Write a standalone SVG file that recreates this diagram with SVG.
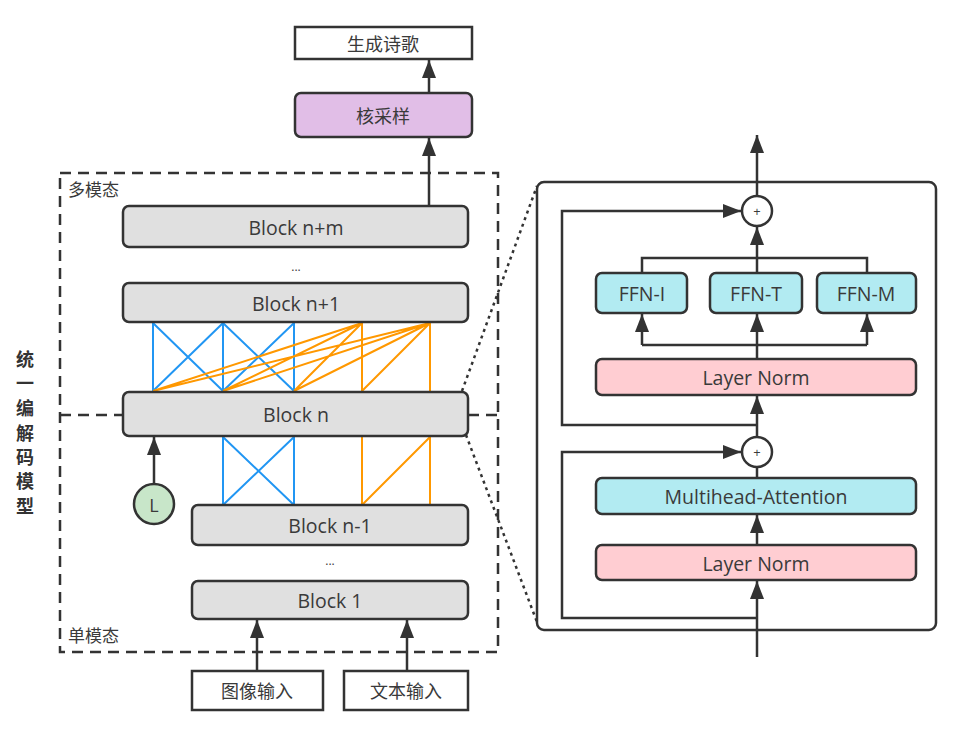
<svg xmlns="http://www.w3.org/2000/svg" width="959" height="730" viewBox="0 0 959 730">
<defs>
<marker id="arr" viewBox="0 0 18 14" refX="18" refY="7" markerWidth="18" markerHeight="14" markerUnits="userSpaceOnUse" orient="auto">
<path d="M0,0 L18,7 L0,14 z" fill="#333"/>
</marker>
<style>
text{font-family:"Open Sans","Noto Sans","Noto Sans CJK SC",sans-serif;fill:#3a3a3a;text-anchor:middle;dominant-baseline:central}
.cjk{font-family:"Noto Sans CJK SC","Noto Sans",sans-serif}
.side{font-family:"Noto Sans CJK SC",sans-serif;font-size:18px;font-weight:bold;fill:#333}
.box{stroke:#333;stroke-width:2.5}
.blk{fill:#e0e0e0}
.cy{fill:#b2ebf2}
.pk{fill:#ffcdd2}
.ln{stroke:#333;stroke-width:2.5;fill:none}
.ar{stroke:#333;stroke-width:2.5;fill:none;marker-end:url(#arr)}
.bl{stroke:#2196f3;stroke-width:2;fill:none}
.or{stroke:#ff9800;stroke-width:2;fill:none}
.dash{stroke:#333;stroke-width:2.5;fill:none;stroke-dasharray:11 7}
.dot{stroke:#333;stroke-width:2.5;fill:none;stroke-dasharray:3 4}
.bt{font-size:19.5px}
</style>
</defs>
<rect width="959" height="730" fill="#fff"/>

<!-- dashed container -->
<g id="container">
<rect x="60" y="173" width="438" height="479" class="dash"/>
<line x1="60" y1="415" x2="123" y2="415" class="dash"/>
<line x1="468" y1="415" x2="498" y2="415" class="dash"/>
<text x="68" y="188" class="cjk" style="font-size:17px;text-anchor:start">多模态</text>
<text x="68" y="634" class="cjk" style="font-size:17px;text-anchor:start">单模态</text>
</g>

<g id="side-label">
<text x="25" y="358" class="side">统</text>
<text x="25" y="382" class="side">一</text>
<text x="25" y="407" class="side">编</text>
<text x="25" y="432" class="side">解</text>
<text x="25" y="456" class="side">码</text>
<text x="25" y="480" class="side">模</text>
<text x="25" y="505" class="side">型</text>
</g>

<!-- connectors -->
<g id="connectors">
<line x1="429" y1="93" x2="429" y2="60" class="ar"/>
<line x1="429" y1="206" x2="429" y2="138" class="ar"/>
<line x1="154" y1="484" x2="154" y2="437" class="ar"/>
<line x1="257" y1="671" x2="257" y2="620" class="ar"/>
<line x1="407" y1="671" x2="407" y2="620" class="ar"/>
<!-- blue/orange between n and n+1 -->
<path class="bl" d="M153,323V391M223,323V391M294,323V391M153,323L223,391M223,323L153,391M223,323L294,391M294,323L223,391"/>
<path class="or" d="M362,323V391M430,323V391M362,323L153,391M362,323L223,391M362,323L294,391M430,323L153,391M430,323L223,391M430,323L294,391M430,323L362,391"/>
<!-- between n-1 and n -->
<path class="bl" d="M223,437V505M294,437V505M223,437L294,505M294,437L223,505"/>
<path class="or" d="M362,437V505M430,437V505M430,437L362,505"/>
<!-- dotted zoom lines -->
<line x1="462" y1="391" x2="537" y2="186" class="dot"/>
<line x1="466" y1="435" x2="537" y2="622" class="dot"/>
<!-- right panel connectors -->
<line x1="757" y1="196" x2="757" y2="135" class="ar"/>
<path d="M757,425H562V211H741" class="ar"/>
<line x1="757" y1="273" x2="757" y2="227" class="ar"/>
<path d="M642,273V258H867V273" class="ln"/>
<path d="M757,359V345" class="ln"/>
<path d="M642,345H867" class="ln"/>
<line x1="642" y1="345" x2="642" y2="314" class="ar"/>
<line x1="757" y1="345" x2="757" y2="314" class="ar"/>
<line x1="867" y1="345" x2="867" y2="314" class="ar"/>
<line x1="757" y1="437" x2="757" y2="396" class="ar"/>
<line x1="757" y1="478" x2="757" y2="467" class="ln"/>
<path d="M757,618H562V452H741" class="ar"/>
<line x1="757" y1="545" x2="757" y2="515" class="ar"/>
<line x1="757" y1="657" x2="757" y2="581" class="ar"/>
</g>

<!-- left nodes -->
<g id="out"><rect x="295" y="27" width="177" height="32" fill="#fff" class="box"/><text x="383" y="43" class="cjk" style="font-size:18px">生成诗歌</text></g>
<g id="sampling"><rect x="295" y="93" width="177" height="44" rx="6" fill="#e1bee7" class="box"/><text x="383" y="115" class="cjk" style="font-size:18px">核采样</text></g>
<g id="block-nm"><rect x="123" y="206" width="345" height="41" rx="6" class="box blk"/><text x="296" y="227" class="bt">Block n+m</text></g>
<g id="dots1"><text x="296" y="266" style="font-size:12px">...</text></g>
<g id="block-n1"><rect x="123" y="283" width="345" height="39" rx="6" class="box blk"/><text x="296" y="303" class="bt">Block n+1</text></g>
<g id="block-n"><rect x="123" y="392" width="345" height="44" rx="6" class="box blk"/><text x="296" y="414" class="bt">Block n</text></g>
<g id="L"><circle cx="154" cy="504" r="20" fill="#c8e6c9" class="box"/><text x="154" y="505" style="font-size:18px">L</text></g>
<g id="block-nm1"><rect x="192" y="505" width="276" height="40" rx="6" class="box blk"/><text x="330" y="525" class="bt">Block n-1</text></g>
<g id="dots2"><text x="330" y="560" style="font-size:12px">...</text></g>
<g id="block-1"><rect x="192" y="581" width="276" height="38" rx="6" class="box blk"/><text x="330" y="600" class="bt">Block 1</text></g>
<g id="img-in"><rect x="192" y="671" width="131" height="39" fill="#fff" class="box"/><text x="257" y="690" class="cjk" style="font-size:18px">图像输入</text></g>
<g id="txt-in"><rect x="344" y="671" width="124" height="39" fill="#fff" class="box"/><text x="406" y="690" class="cjk" style="font-size:18px">文本输入</text></g>

<!-- right panel -->
<g id="panel"><rect x="537" y="182" width="399" height="448" rx="7" fill="none" class="box"/></g>
<g id="plus1"><circle cx="757" cy="211" r="15" fill="#fff" class="box"/><text x="757" y="211" style="font-size:13px">+</text></g>
<g id="ffn-i"><rect x="596" y="273" width="91" height="40" rx="6" class="box cy"/><text x="642" y="293" class="bt">FFN-I</text></g>
<g id="ffn-t"><rect x="710" y="273" width="92" height="40" rx="6" class="box cy"/><text x="756" y="293" class="bt">FFN-T</text></g>
<g id="ffn-m"><rect x="817" y="273" width="99" height="40" rx="6" class="box cy"/><text x="866" y="293" class="bt">FFN-M</text></g>
<g id="ln1"><rect x="596" y="359" width="320" height="36" rx="6" class="box pk"/><text x="756" y="377" class="bt">Layer Norm</text></g>
<g id="plus2"><circle cx="757" cy="452" r="15" fill="#fff" class="box"/><text x="757" y="452" style="font-size:13px">+</text></g>
<g id="mha"><rect x="596" y="478" width="320" height="36" rx="6" class="box cy"/><text x="756" y="496" class="bt">Multihead-Attention</text></g>
<g id="ln2"><rect x="596" y="545" width="320" height="35" rx="6" class="box pk"/><text x="756" y="563" class="bt">Layer Norm</text></g>
</svg>
